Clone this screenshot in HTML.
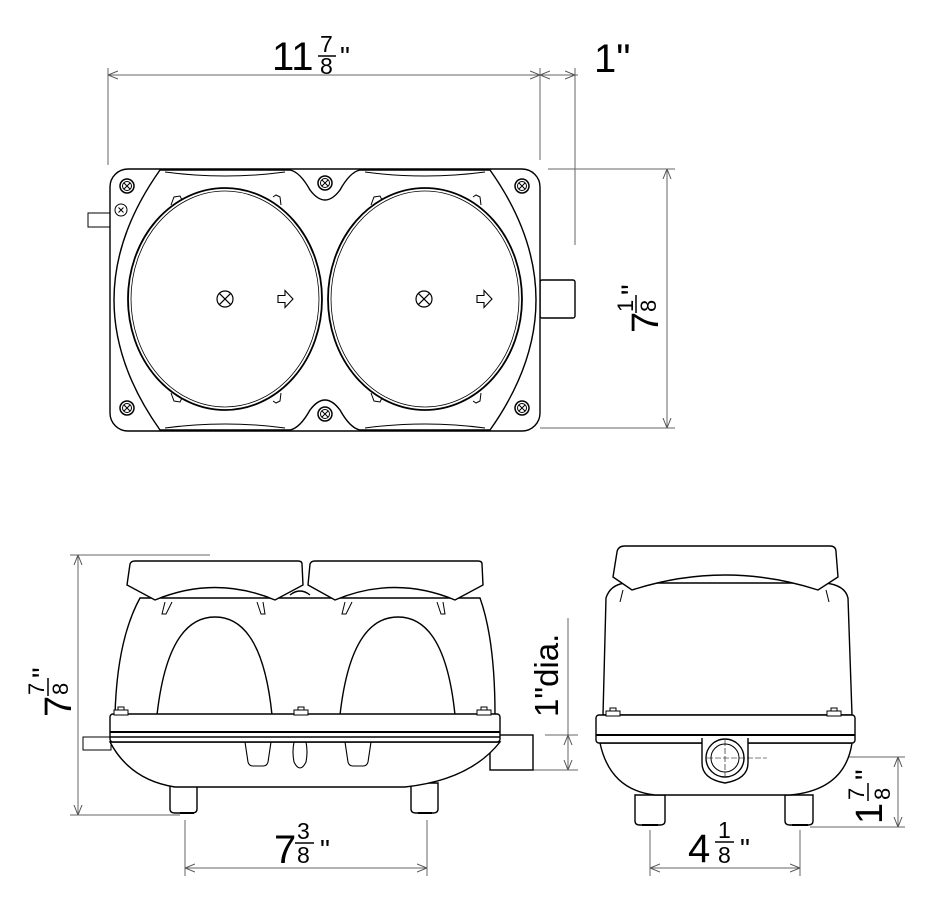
<!DOCTYPE html>
<html><head><meta charset="utf-8"><style>
html,body{margin:0;padding:0;background:#fff}
svg{display:block}
text{font-family:"Liberation Sans",Arial,sans-serif;fill:#000}
</style></head><body>
<svg width="942" height="900" viewBox="0 0 942 900" xmlns="http://www.w3.org/2000/svg">
<defs>
<marker id="ar" viewBox="0 0 10 10" refX="10" refY="5" markerWidth="10" markerHeight="10" orient="auto-start-reverse" markerUnits="userSpaceOnUse">
<path d="M0,1 L10,5 L0,9" fill="none" stroke="#555" stroke-width="1"/>
</marker>
<g id="scr"><circle r="7" fill="none" stroke="#000" stroke-width="1.5"/><circle r="4.5" fill="none" stroke="#000" stroke-width="1"/><path d="M-3,-3L3,3M-3,3L3,-3" stroke="#000" stroke-width="1"/></g>
<g id="xc"><circle r="8" fill="none" stroke="#000" stroke-width="1.2"/><path d="M-5.6,-5.6L5.6,5.6M-5.6,5.6L5.6,-5.6" stroke="#000" stroke-width="1.2"/></g>
<path id="arw" d="M-8,-3.5h7v-5l8,8.5l-8,8.5v-5h-7z" fill="none" stroke="#000" stroke-width="1.1"/>
<g id="nut"><rect x="-7" y="-4" width="14" height="5" fill="#fff" stroke="#000" stroke-width="1"/><rect x="-3" y="-7" width="6" height="3" fill="#fff" stroke="#000" stroke-width="1"/></g>
</defs>

<g stroke="#666" stroke-width="1" fill="none">
<line x1="108" y1="68" x2="108" y2="165"/>
<line x1="540" y1="68" x2="540" y2="160"/>
<line x1="575" y1="68" x2="575" y2="245"/>
<line x1="108" y1="75" x2="540" y2="75" marker-start="url(#ar)" marker-end="url(#ar)"/>
<line x1="540" y1="75" x2="575" y2="75" marker-start="url(#ar)" marker-end="url(#ar)"/>
<line x1="575" y1="75" x2="578" y2="75"/>
<line x1="548" y1="169" x2="675" y2="169"/>
<line x1="540" y1="428" x2="675" y2="428"/>
<line x1="667" y1="169" x2="667" y2="428" marker-start="url(#ar)" marker-end="url(#ar)"/>
<line x1="70" y1="555" x2="210" y2="555"/>
<line x1="70" y1="815" x2="180" y2="815"/>
<line x1="78" y1="555" x2="78" y2="815" marker-start="url(#ar)" marker-end="url(#ar)"/>
<line x1="185" y1="820" x2="185" y2="876"/>
<line x1="427" y1="820" x2="427" y2="876"/>
<line x1="185" y1="868" x2="427" y2="868" marker-start="url(#ar)" marker-end="url(#ar)"/>
<line x1="568" y1="618" x2="568" y2="735"/>
<line x1="545" y1="735" x2="578" y2="735"/>
<line x1="505" y1="770" x2="578" y2="770"/>
<line x1="568" y1="735" x2="568" y2="770" marker-start="url(#ar)" marker-end="url(#ar)"/>
<line x1="765" y1="757" x2="905" y2="757"/>
<line x1="810" y1="827" x2="905" y2="827"/>
<line x1="898" y1="757" x2="898" y2="827" marker-start="url(#ar)" marker-end="url(#ar)"/>
<line x1="650" y1="830" x2="650" y2="876"/>
<line x1="800" y1="830" x2="800" y2="876"/>
<line x1="650" y1="868" x2="800" y2="868" marker-start="url(#ar)" marker-end="url(#ar)"/>
</g>

<!-- labels -->
<text x="272" y="70" font-size="40">11</text>
<text x="320" y="52" font-size="23">7</text><line x1="318" y1="56" x2="336" y2="56" stroke="#000" stroke-width="1.5"/><text x="320" y="74" font-size="23">8</text>
<text x="340" y="66" font-size="28">"</text>
<text x="594" y="72" font-size="40">1"</text>

<text x="274" y="863" font-size="40">7</text>
<text x="297" y="839" font-size="23">3</text><line x1="295" y1="843" x2="314" y2="843" stroke="#000" stroke-width="1.5"/><text x="297" y="863" font-size="23">8</text>
<text x="320" y="859" font-size="28">"</text>

<text x="688" y="862" font-size="40">4</text>
<text x="718" y="838" font-size="23">1</text><line x1="715" y1="842" x2="734" y2="842" stroke="#000" stroke-width="1.5"/><text x="718" y="863" font-size="23">8</text>
<text x="740" y="858" font-size="28">"</text>

<g transform="translate(658,333) rotate(-90)">
<text x="0" y="0" font-size="38">7</text><text x="21" y="-25" font-size="22">1</text><line x1="20" y1="-22" x2="38" y2="-22" stroke="#000" stroke-width="1.5"/><text x="21" y="-2" font-size="22">8</text><text x="38" y="-16" font-size="30">"</text>
</g>
<g transform="translate(71,717) rotate(-90)">
<text x="0" y="0" font-size="38">7</text><text x="22" y="-27" font-size="22">7</text><line x1="21" y1="-23" x2="39" y2="-23" stroke="#000" stroke-width="1.5"/><text x="22" y="-3" font-size="22">8</text><text x="39" y="-18" font-size="30">"</text>
</g>
<g transform="translate(558,717) rotate(-90)"><text x="0" y="0" font-size="33">1"dia.</text></g>
<g transform="translate(882,824) rotate(-90)">
<text x="0" y="0" font-size="38">1</text><text x="24" y="-18" font-size="22">7</text><line x1="23" y1="-14" x2="41" y2="-14" stroke="#000" stroke-width="1.5"/><text x="24" y="8" font-size="22">8</text><text x="44" y="-6" font-size="30">"</text>
</g>

<!-- TOP VIEW -->
<g fill="none" stroke="#000" stroke-width="1.4">
<rect x="88" y="213" width="22" height="14" stroke-width="1"/>
<rect x="540" y="280" width="35" height="38" rx="2"/>
<rect x="110" y="169" width="430" height="262" rx="18" fill="#fff"/>
<path d="M160,170 L290,170 Q300,172 310,190 Q325,210 340,190 Q350,172 360,170 L490,170 Q582,300 490,430 L360,430 Q350,428 340,410 Q325,390 310,410 Q300,428 290,430 L160,430 Q68,300 160,170 Z"/>
<path d="M165,172 Q225,180 285,172 M365,172 Q425,180 485,172 M165,428 Q225,420 285,428 M365,428 Q425,420 485,428" stroke-width="1"/>
<ellipse cx="225" cy="299" rx="97" ry="111" stroke-width="1.8"/>
<ellipse cx="225" cy="299" rx="94" ry="108" stroke-width="0.8"/>
<ellipse cx="425" cy="299" rx="97" ry="111" stroke-width="1.8"/>
<ellipse cx="425" cy="299" rx="94" ry="108" stroke-width="0.8"/>
<g stroke-width="1">
<path d="M171,205 l3,-8 6,-1 2,4 M273,197 l3,-2 4,2 1,8 M371,205 l3,-8 6,-1 2,4 M473,197 l3,-2 4,2 1,8"/>
<path d="M171,393 l3,8 6,1 2,-4 M273,401 l3,2 4,-2 1,-8 M371,393 l3,8 6,1 2,-4 M473,401 l3,2 4,-2 1,-8"/>
</g>
</g>
<use href="#scr" x="127" y="186"/><use href="#scr" x="325" y="183"/><use href="#scr" x="522" y="186"/>
<use href="#scr" x="127" y="408"/><use href="#scr" x="325" y="414"/><use href="#scr" x="522" y="408"/>
<circle cx="121" cy="210" r="6" fill="#fff" stroke="#000"/><path d="M118.5,207.5l5,5m0,-5l-5,5" stroke="#000"/>
<use href="#xc" x="225" y="299"/><use href="#xc" x="424" y="299"/>
<use href="#arw" x="286" y="299"/><use href="#arw" x="485" y="299"/>

<!-- FRONT VIEW -->
<g fill="#fff" stroke="#000" stroke-width="1.4">
<rect x="83" y="737" width="28" height="13" stroke-width="1"/>
<rect x="490" y="735" width="43" height="35"/>
<path d="M170,783 v26 q0,4 5,4 h17 q5,0 5,-4 v-26 z"/>
<path d="M411,783 v26 q0,4 5,4 h17 q5,0 5,-4 v-26 z"/>
<path d="M110,742 Q130,780 175,787 L405,787 Q470,780 500,742 Z"/>
<path d="M115,715 Q117,640 140,598 L480,598 Q495,640 495,715 Z"/>
<path d="M157,715 Q168,617 215,617 Q262,617 272,715 M340,715 Q351,617 398,617 Q445,617 455,715" fill="none"/>
<rect x="110" y="714" width="390" height="28" rx="3"/>
<line x1="110" y1="732" x2="500" y2="732" stroke-width="2"/>
<line x1="110" y1="737" x2="500" y2="737"/>
<path d="M245,742 l3,20 q1,4 5,4 h10 q4,0 5,-4 l3,-20 M294,742 q-2,10 0,20 q6,12 12,0 q2,-10 0,-20 M345,742 l3,20 q1,4 5,4 h10 q4,0 5,-4 l3,-20" fill="none" stroke-width="1.1"/>
<path d="M127,585 L130,564 Q131,561 135,561 L298,561 Q302,561 302,564 L303,585 L275,600 Q215,575 155,600 Z"/>
<path d="M308,585 L310,564 Q311,561 315,561 L478,561 Q482,561 482,564 L483,585 L455,600 Q395,575 335,600 Z"/>
<path d="M290,595 q10,-8 20,0" fill="none"/>
<path d="M165,602 l-3,12 4,0 6,-12 M257,602 l4,12 4,0 -2,-12 M345,602 l-3,12 4,0 6,-12 M437,602 l4,12 4,0 -2,-12" fill="none" stroke-width="1"/>
</g>
<use href="#nut" x="121" y="714"/><use href="#nut" x="301" y="714"/><use href="#nut" x="484" y="714"/>
<path d="M180,813 h14 M418,813 h14" stroke="#000" stroke-width="2"/>

<!-- SIDE VIEW -->
<g fill="#fff" stroke="#000" stroke-width="1.4">
<path d="M635,795 v26 q0,4 5,4 h20 q5,0 5,-4 v-26 z"/>
<path d="M785,795 v26 q0,4 5,4 h18 q5,0 5,-4 v-26 z"/>
<path d="M600,743 Q610,790 655,795 L790,795 Q845,790 852,743 Z"/>
<path d="M603,715 L606,598 Q610,585 625,583 L825,583 Q845,585 848,598 L852,715 Z"/>
<rect x="596" y="715" width="259" height="28" rx="3"/>
<line x1="596" y1="735" x2="855" y2="735" stroke-width="2"/>
<path d="M702,738 v25 q0,16 23,20 q23,-4 23,-20 v-25" />
<circle cx="725" cy="758" r="19"/>
<circle cx="725" cy="758" r="14" stroke-width="1"/>
<path d="M613,577 L617,552 Q618,546 625,546 L830,546 Q836,546 836,552 L838,577 L818,590 Q725,560 632,590 Z"/>
<path d="M623,590 l-3,12 M826,590 l3,12" fill="none" stroke-width="1"/>
</g>
<path d="M725,740v36M707,758h60" stroke="#000" stroke-width="0.6" stroke-dasharray="6,2"/>
<use href="#nut" x="613" y="715"/><use href="#nut" x="834" y="715"/>
<path d="M642,825 h16 M792,825 h16" stroke="#000" stroke-width="2"/>
</svg>
</body></html>
